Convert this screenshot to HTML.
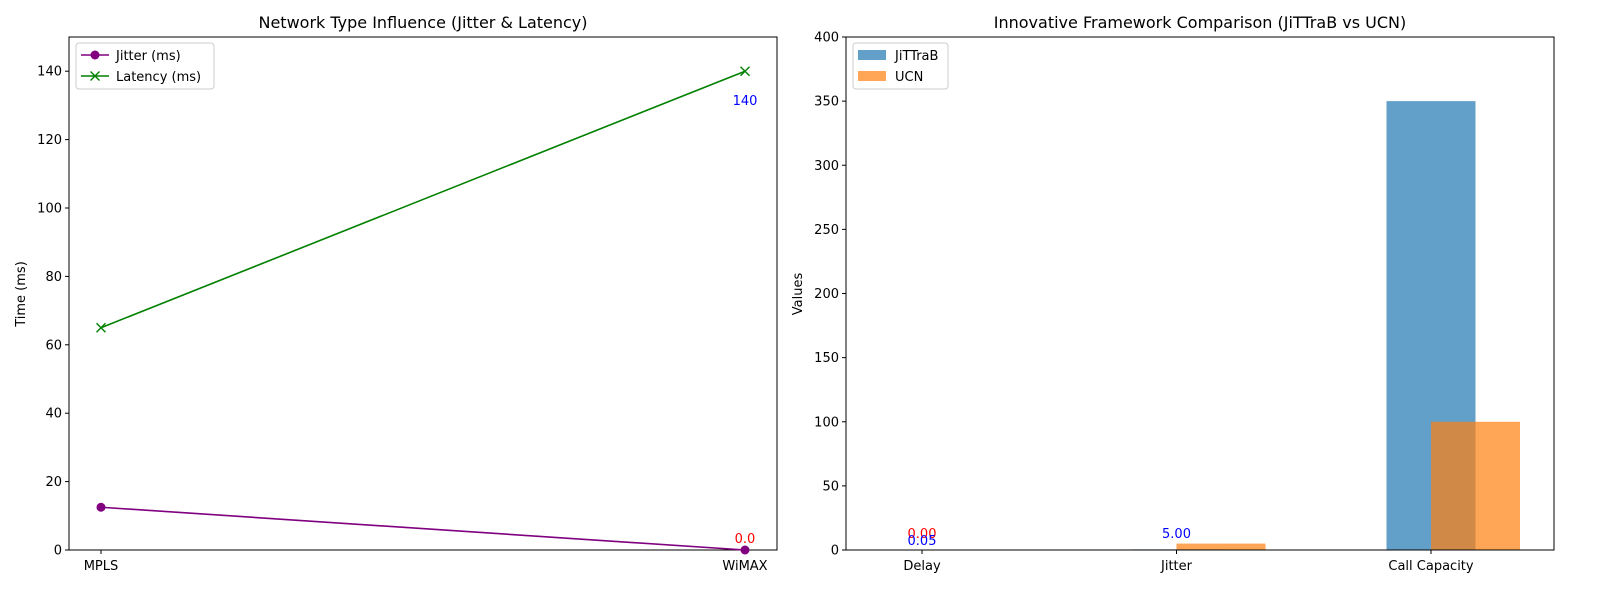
<!DOCTYPE html>
<html><head><meta charset="utf-8"><style>
body{margin:0;background:#fff;font-family:"Liberation Sans","DejaVu Sans",sans-serif}
svg text{font-family:"DejaVu Sans","Liberation Sans",sans-serif}
</style></head><body>
<svg id="c" width="1600" height="600" xmlns="http://www.w3.org/2000/svg"></svg>
<script>
const netCats=["MPLS","WiMAX"];
const jitterVals=[12.5,0];
const latencyVals=[65,140];
const leftTicks=[0,20,40,60,80,100,120,140];
const barCats=["Delay","Jitter","Call Capacity"];
const jittrabVals=[0.05,0.5,350];
const ucnVals=[0,5,100];
const rightTicks=[0,50,100,150,200,250,300,350,400];
const NS="http://www.w3.org/2000/svg";
const svg=document.getElementById('c');
function el(t,a,p){const e=document.createElementNS(NS,t);for(const k in a)e.setAttribute(k,a[k]);(p||svg).appendChild(e);return e;}
function tx(x,y,s,a,p){const e=el('text',Object.assign({x:x,y:y,'font-size':13,fill:'#000'},a),p);e.textContent=s;return e;}
// left panel
const L={x0:69,x1:777,y0:37,y1:550};
const lx=i=>101+i*(745-101);
const ly=v=>L.y1-v/150*(L.y1-L.y0);
const gl=el('g',{});


el('rect',{x:L.x0,y:L.y0,width:L.x1-L.x0,height:L.y1-L.y0,fill:'none',stroke:'#000','stroke-width':1},gl);
leftTicks.forEach(v=>{el('line',{x1:L.x0-4,x2:L.x0,y1:ly(v),y2:ly(v),stroke:'#000'},gl);tx(L.x0-7,ly(v)+4.5,String(v),{'text-anchor':'end'},gl);});
netCats.forEach((c,i)=>{el('line',{x1:lx(i),x2:lx(i),y1:L.y1,y2:L.y1+4,stroke:'#000'},gl);tx(lx(i),L.y1+20,c,{'text-anchor':'middle'},gl);});
tx(423,28,"Network Type Influence (Jitter & Latency)",{'text-anchor':'middle','font-size':16},gl);
tx(25,294,"Time (ms)",{'text-anchor':'middle',transform:'rotate(-90 25 294)'},gl);
const jl=el('polyline',{points:jitterVals.map((v,i)=>lx(i)+','+ly(v)).join(' '),fill:'none',stroke:'purple','stroke-width':1.6},gl);


jitterVals.forEach((v,i)=>{const m=el('circle',{cx:lx(i),cy:ly(v),r:4.5,fill:'purple'},gl);});
const ll=el('polyline',{points:latencyVals.map((v,i)=>lx(i)+','+ly(v)).join(' '),fill:'none',stroke:'green','stroke-width':1.6},gl);


latencyVals.forEach((v,i)=>{const x=lx(i),y=ly(v);el('path',{d:`M${x-4.5},${y-4.5}L${x+4.5},${y+4.5}M${x-4.5},${y+4.5}L${x+4.5},${y-4.5}`,stroke:'green','stroke-width':1.4},gl);});
tx(lx(1),ly(jitterVals[1])-7,jitterVals[1].toFixed(1),{'text-anchor':'middle',fill:'red'},gl);
tx(lx(1),ly(latencyVals[1])+34,String(latencyVals[1]),{'text-anchor':'middle',fill:'blue'},gl);
const lg=el('g',{},gl);


el('rect',{x:76,y:43,width:138,height:46,rx:3,fill:'#fff',stroke:'#ccc'},lg);
el('line',{x1:81,x2:109,y1:55,y2:55,stroke:'purple','stroke-width':1.6},lg);el('circle',{cx:95,cy:55,r:4.5,fill:'purple'},lg);
tx(116,60,"Jitter (ms)",{},lg);
el('line',{x1:81,x2:109,y1:76,y2:76,stroke:'green','stroke-width':1.6},lg);el('path',{d:'M90.5,71.5L99.5,80.5M90.5,80.5L99.5,71.5',stroke:'green','stroke-width':1.4},lg);
tx(116,81,"Latency (ms)",{},lg);
// right panel
const R={x0:846,x1:1554,y0:37,y1:550};
const rx=i=>922+i*254.5;
const ry=v=>R.y1-v/400*(R.y1-R.y0);
const bw=89;
const gr=el('g',{});


jittrabVals.forEach((v,i)=>{const b=el('rect',{x:rx(i)-bw/2,y:ry(v),width:bw,height:R.y1-ry(v),fill:'#1f77b4','fill-opacity':0.7},gr);});
ucnVals.forEach((v,i)=>{const b=el('rect',{x:rx(i),y:ry(v),width:bw,height:R.y1-ry(v),fill:'#ff7f0e','fill-opacity':0.7},gr);});
el('rect',{x:R.x0,y:R.y0,width:R.x1-R.x0,height:R.y1-R.y0,fill:'none',stroke:'#000'},gr);
rightTicks.forEach(v=>{el('line',{x1:R.x0-4,x2:R.x0,y1:ry(v),y2:ry(v),stroke:'#000'},gr);tx(R.x0-7,ry(v)+4.5,String(v),{'text-anchor':'end'},gr);});
barCats.forEach((c,i)=>{el('line',{x1:rx(i),x2:rx(i),y1:R.y1,y2:R.y1+4,stroke:'#000'},gr);tx(rx(i),R.y1+20,c,{'text-anchor':'middle'},gr);});
tx(1200,28,"Innovative Framework Comparison (JiTTraB vs UCN)",{'text-anchor':'middle','font-size':16},gr);
tx(802,294,"Values",{'text-anchor':'middle',transform:'rotate(-90 802 294)'},gr);
tx(rx(0),538,ucnVals[0].toFixed(2),{'text-anchor':'middle',fill:'red'},gr);
tx(rx(0),545,jittrabVals[0].toFixed(2),{'text-anchor':'middle',fill:'blue'},gr);
tx(rx(1),538,ucnVals[1].toFixed(2),{'text-anchor':'middle',fill:'blue'},gr);
const rg=el('g',{},gr);


el('rect',{x:853,y:43,width:95,height:46,rx:3,fill:'#fff',stroke:'#ccc'},rg);
el('rect',{x:858,y:50,width:28,height:10,fill:'#1f77b4','fill-opacity':0.7},rg);tx(895,60,"JiTTraB",{},rg);
el('rect',{x:858,y:71,width:28,height:10,fill:'#ff7f0e','fill-opacity':0.7},rg);tx(895,81,"UCN",{},rg);
</script>
</body></html>
